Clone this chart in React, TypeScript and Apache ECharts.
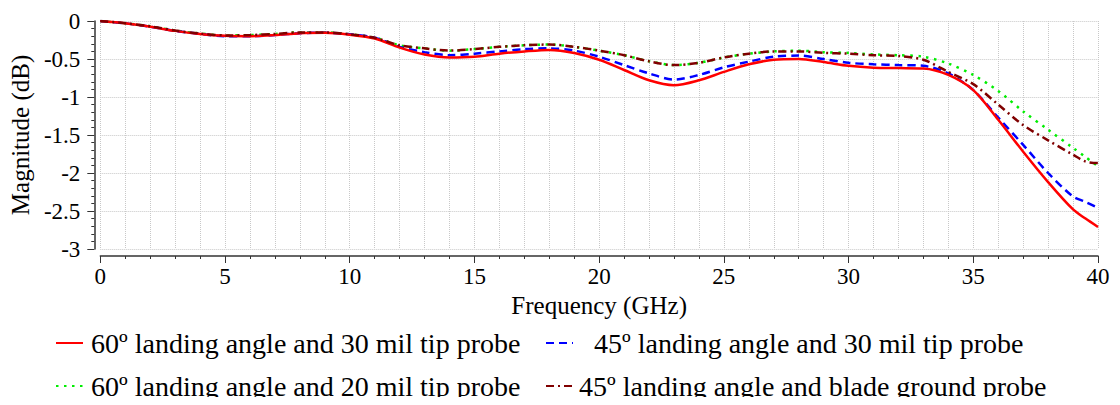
import React, { useEffect, useRef } from "react";
import * as echarts from "echarts";

const freq = [0, 1, 2, 3, 4, 5, 6, 7, 8, 9, 10, 11, 12, 13, 14, 15, 16, 17, 18, 19, 20, 21, 22, 23, 24, 25, 26, 27, 28, 29, 30, 31, 32, 33, 34, 35, 36, 37, 38, 39, 39.5, 40];

const red60_30 = [0, -0.03, -0.075, -0.13, -0.17, -0.195, -0.2, -0.185, -0.16, -0.155, -0.18, -0.23, -0.35, -0.44, -0.48, -0.47, -0.43, -0.4, -0.38, -0.42, -0.51, -0.645, -0.78, -0.845, -0.78, -0.67, -0.57, -0.51, -0.5, -0.54, -0.59, -0.615, -0.62, -0.625, -0.71, -0.91, -1.3, -1.72, -2.12, -2.48, -2.6, -2.71];
const blue45_30 = [0, -0.03, -0.075, -0.13, -0.17, -0.2, -0.2, -0.185, -0.16, -0.155, -0.175, -0.22, -0.34, -0.41, -0.45, -0.43, -0.4, -0.37, -0.36, -0.39, -0.47, -0.58, -0.69, -0.77, -0.71, -0.61, -0.535, -0.47, -0.455, -0.5, -0.55, -0.57, -0.58, -0.59, -0.69, -0.91, -1.27, -1.63, -2.0, -2.31, -2.38, -2.46];
const green60_20 = [0, -0.03, -0.07, -0.125, -0.165, -0.19, -0.185, -0.17, -0.15, -0.15, -0.175, -0.22, -0.32, -0.36, -0.39, -0.37, -0.34, -0.32, -0.31, -0.34, -0.39, -0.45, -0.53, -0.58, -0.55, -0.48, -0.43, -0.4, -0.39, -0.41, -0.42, -0.44, -0.45, -0.47, -0.56, -0.71, -0.92, -1.19, -1.43, -1.67, -1.79, -1.91];
const brown45_blade = [0, -0.03, -0.07, -0.125, -0.165, -0.19, -0.185, -0.17, -0.15, -0.15, -0.175, -0.22, -0.32, -0.36, -0.39, -0.37, -0.34, -0.32, -0.31, -0.34, -0.39, -0.45, -0.53, -0.58, -0.55, -0.48, -0.43, -0.4, -0.4, -0.42, -0.43, -0.45, -0.46, -0.51, -0.67, -0.83, -1.1, -1.37, -1.57, -1.76, -1.85, -1.87];

const names = [
  "60º landing angle and 30 mil tip probe",
  "45º landing angle and 30 mil tip probe",
  "60º landing angle and 20 mil tip probe",
  "45º landing angle and blade ground probe",
];

const FONT = "Times New Roman, Liberation Serif, serif";

export default function App() {
  const ref = useRef<HTMLDivElement>(null);
  useEffect(() => {
    const chart = echarts.init(ref.current!, null, { renderer: "svg" });
    const pairs = (vals: number[]) => freq.map((f, i) => [f, vals[i]]);
    const legendBase = {
      orient: "horizontal" as const,
      padding: 0,
      itemWidth: 27,
      itemHeight: 14,
      itemStyle: { opacity: 0, borderWidth: 0 },
      textStyle: { fontFamily: FONT, fontSize: 28, color: "#000", lineHeight: 30 },
    };
    const mkLegend = (name: string, left: number, top: number, pad: number) => ({
      ...legendBase,
      data: [name],
      left,
      top,
      textStyle: { ...legendBase.textStyle, padding: [0, 0, 0, pad] },
    });
    chart.setOption({
      animation: false,
      backgroundColor: "#fff",
      textStyle: { fontFamily: FONT },
      grid: { left: 99, right: 22, top: 21, bottom: 156 },
      legend: [
        mkLegend(names[0], 55, 328, 3),
        mkLegend(names[1], 545, 328, 16),
        mkLegend(names[2], 55, 371, 3),
        mkLegend(names[3], 545, 371, 1),
      ],
      xAxis: {
        type: "value",
        min: 0,
        max: 40,
        interval: 5,
        offset: 7,
        name: "Frequency (GHz)",
        nameLocation: "middle",
        nameGap: 34,
        nameTextStyle: { fontFamily: FONT, fontSize: 25, color: "#000" },
        axisLine: { show: true, onZero: false, lineStyle: { color: "#333", width: 1.5 } },
        axisTick: { show: true, length: 7, lineStyle: { color: "#333", width: 1 } },
        minorTick: { show: true, splitNumber: 5, length: 3, lineStyle: { color: "#333", width: 1 } },
        axisLabel: { fontFamily: FONT, fontSize: 23, color: "#000", margin: 9 },
        splitLine: { show: true, lineStyle: { color: "#c8c8c8", type: "dotted", width: 1 } },
        minorSplitLine: { show: true, lineStyle: { color: "#c8c8c8", type: "dotted", width: 1 } },
      },
      yAxis: {
        type: "value",
        min: -3,
        max: 0,
        interval: 0.5,
        offset: 6,
        name: "Magnitude (dB)",
        nameLocation: "middle",
        nameGap: 53,
        nameTextStyle: { fontFamily: FONT, fontSize: 25, color: "#000" },
        axisLine: { show: true, onZero: false, lineStyle: { color: "#333", width: 1.5 } },
        axisTick: { show: true, length: 7, lineStyle: { color: "#333", width: 1 } },
        minorTick: { show: true, splitNumber: 5, length: 3, lineStyle: { color: "#333", width: 1 } },
        axisLabel: { fontFamily: FONT, fontSize: 23, color: "#000", margin: 14 },
        splitLine: { show: true, lineStyle: { color: "#c8c8c8", type: "dotted", width: 1 } },
      },
      series: [
        {
          name: names[0], type: "line", symbol: "none", smooth: 0.3, z: 5,
          data: pairs(red60_30), color: "#ff0000",
          lineStyle: { color: "#ff0000", width: 2.5, type: "solid" },
        },
        {
          name: names[1], type: "line", symbol: "none", smooth: 0.3, z: 4,
          data: pairs(blue45_30), color: "#0000ff",
          lineStyle: { color: "#0000ff", width: 2.5, type: [8, 5] },
        },
        {
          name: names[2], type: "line", symbol: "none", smooth: 0.3, z: 3,
          data: pairs(green60_20), color: "#00ee00",
          lineStyle: { color: "#00ee00", width: 2.5, type: [2.5, 5.5] },
        },
        {
          name: names[3], type: "line", symbol: "none", smooth: 0.3, z: 6,
          data: pairs(brown45_blade), color: "#800000",
          lineStyle: { color: "#800000", width: 2.5, type: [8, 4, 2, 4] },
        },
      ],
    });
    return () => chart.dispose();
  }, []);
  return <div ref={ref} style={{ width: 1120, height: 405, margin: -8 }} />;
}
